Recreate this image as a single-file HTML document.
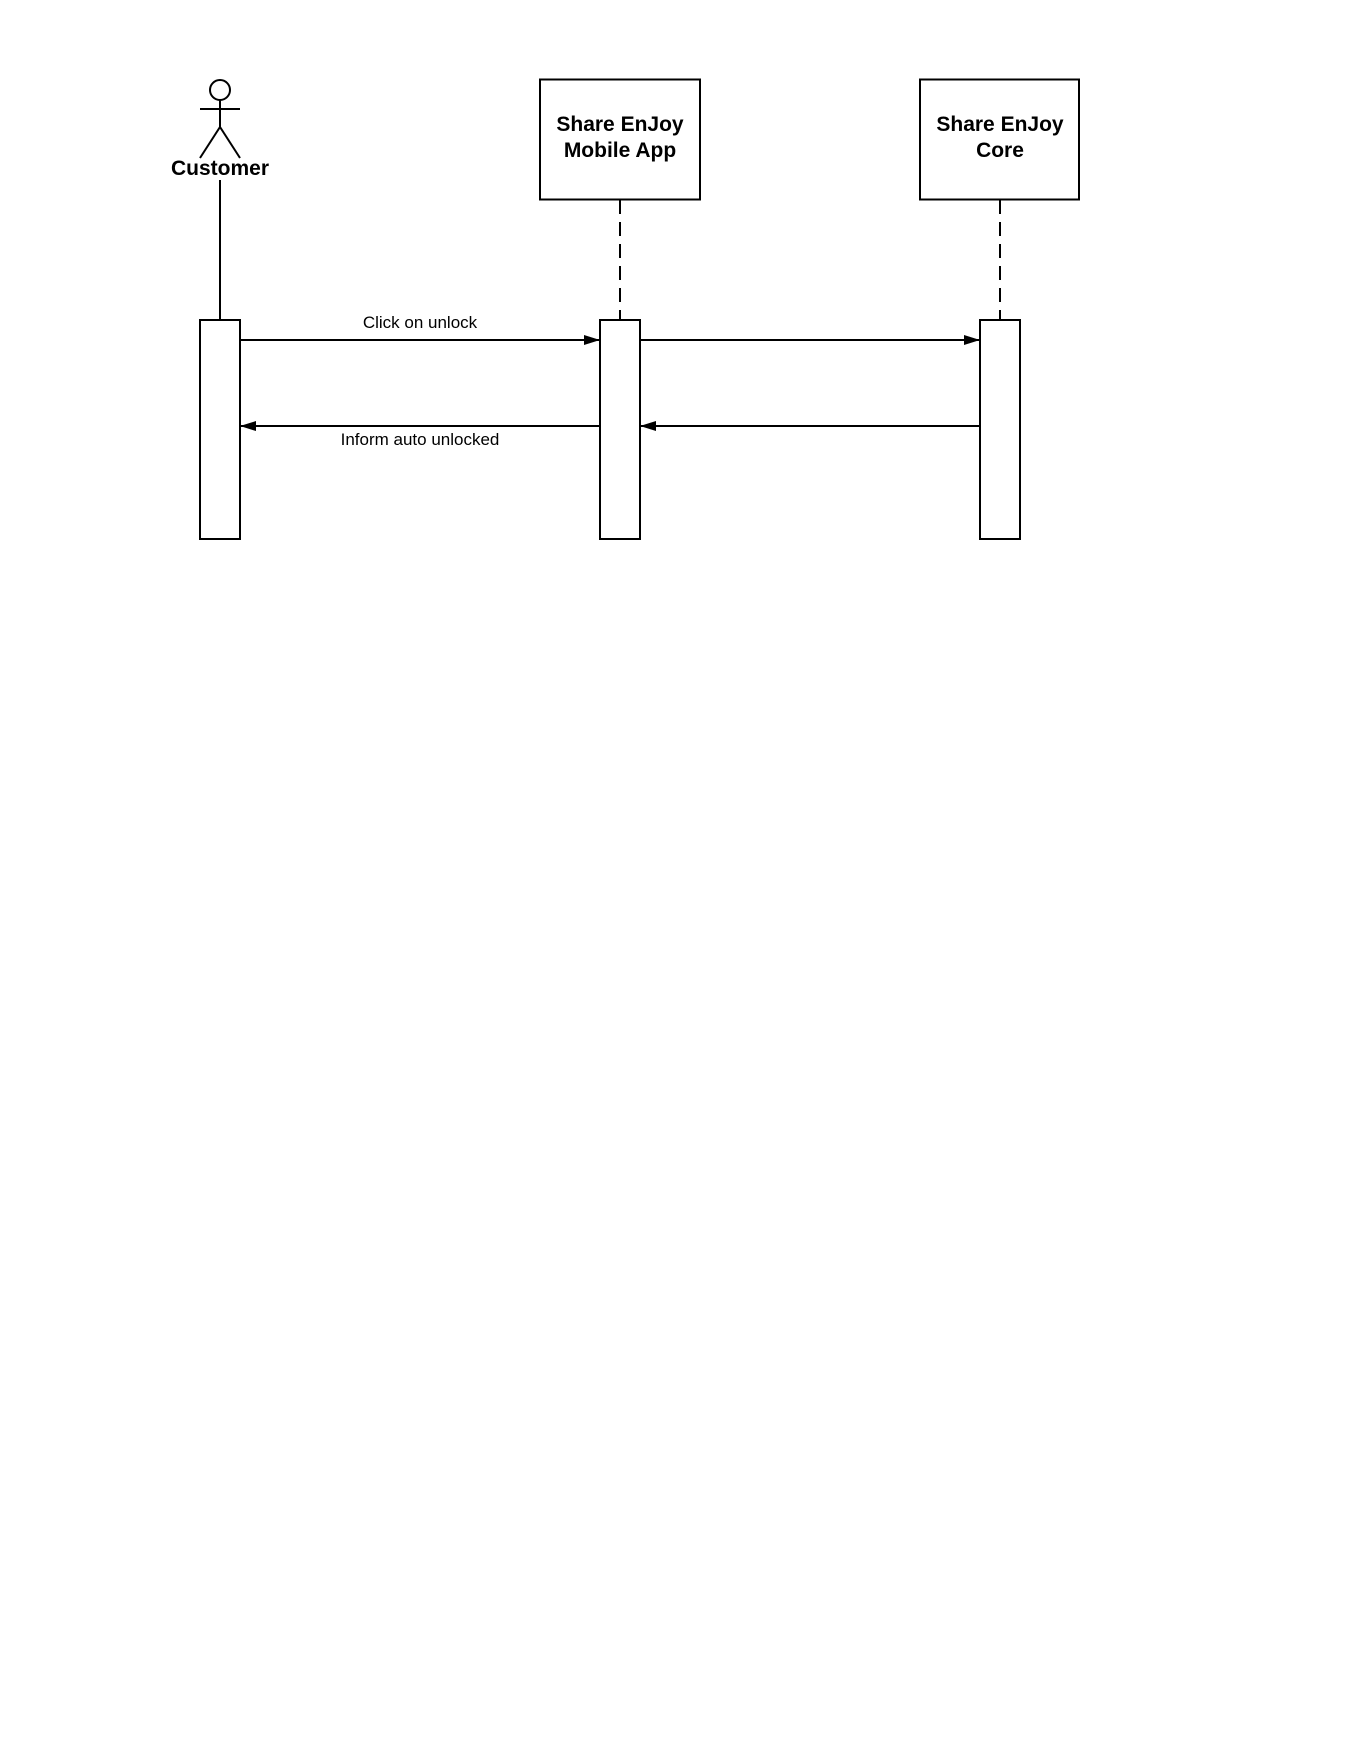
<!DOCTYPE html>
<html><head><meta charset="utf-8"><style>
html,body{margin:0;padding:0;background:#fff;}
svg{display:block;}
</style></head><body>
<svg width="1360" height="1760" xmlns="http://www.w3.org/2000/svg" font-family="Liberation Sans, sans-serif">
<rect width="1360" height="1760" fill="#fff"/>
<defs><marker id="a" markerWidth="16" markerHeight="10" refX="16" refY="5" orient="auto" markerUnits="userSpaceOnUse"><path d="M0,0 L16,5 L0,10 z" fill="#000"/></marker></defs>
<g stroke="#000" stroke-width="2" fill="none">
<circle cx="220" cy="90" r="10"/>
<line x1="220" y1="100" x2="220" y2="128"/>
<line x1="200" y1="109" x2="240" y2="109"/>
<line x1="220" y1="127" x2="200" y2="158"/>
<line x1="220" y1="127" x2="240" y2="158"/>
<line x1="220" y1="180" x2="220" y2="320"/>
<rect x="540" y="79.5" width="160" height="120"/>
<rect x="920" y="79.5" width="159" height="120"/>
<line x1="620" y1="200" x2="620" y2="320" stroke-dasharray="14,8"/>
<line x1="1000" y1="200" x2="1000" y2="320" stroke-dasharray="14,8"/>
<rect x="200" y="320" width="40" height="219"/>
<rect x="600" y="320" width="40" height="219"/>
<rect x="980" y="320" width="40" height="219"/>
<line x1="240" y1="340" x2="600" y2="340" marker-end="url(#a)"/>
<line x1="640" y1="340" x2="980" y2="340" marker-end="url(#a)"/>
<line x1="980" y1="426" x2="640" y2="426" marker-end="url(#a)"/>
<line x1="600" y1="426" x2="240" y2="426" marker-end="url(#a)"/>
</g>
<g fill="#000" text-anchor="middle">
<text x="220" y="175" font-size="21" font-weight="bold">Customer</text>
<text x="620" y="131" font-size="21" font-weight="bold">Share EnJoy</text>
<text x="620" y="157" font-size="21" font-weight="bold">Mobile App</text>
<text x="1000" y="131" font-size="21" font-weight="bold">Share EnJoy</text>
<text x="1000" y="157" font-size="21" font-weight="bold">Core</text>
<text x="420" y="328" font-size="17">Click on unlock</text>
<text x="420" y="445" font-size="17">Inform auto unlocked</text>
</g>
</svg>
</body></html>
